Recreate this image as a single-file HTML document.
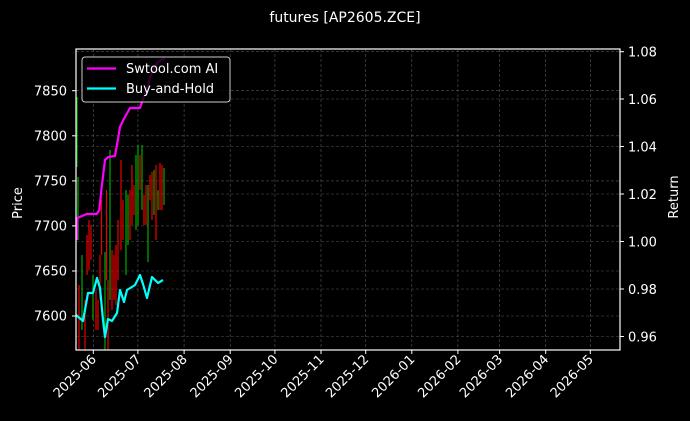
<!DOCTYPE html>
<html><head><meta charset="utf-8"><style>
html,body{margin:0;padding:0;background:#000;}
svg{display:block;font-family:"DejaVu Sans","Liberation Sans",sans-serif;}
</style></head><body>
<svg width="690" height="421" viewBox="0 0 690 421" xmlns="http://www.w3.org/2000/svg">
<rect width="690" height="421" fill="#000"/>
<text x="345" y="22" fill="#fff" font-size="14" text-anchor="middle">futures [AP2605.ZCE]</text>
<g stroke="#555" stroke-width="0.6" stroke-dasharray="3,2">
<line x1="76" x2="620" y1="90.7" y2="90.7"/><line x1="76" x2="620" y1="135.8" y2="135.8"/><line x1="76" x2="620" y1="180.9" y2="180.9"/><line x1="76" x2="620" y1="225.9" y2="225.9"/><line x1="76" x2="620" y1="271" y2="271"/><line x1="76" x2="620" y1="316" y2="316"/>
<line x1="76" x2="620" y1="51.7" y2="51.7"/><line x1="76" x2="620" y1="99" y2="99"/><line x1="76" x2="620" y1="146.5" y2="146.5"/><line x1="76" x2="620" y1="194" y2="194"/><line x1="76" x2="620" y1="241.5" y2="241.5"/><line x1="76" x2="620" y1="289" y2="289"/><line x1="76" x2="620" y1="336.5" y2="336.5"/>
<line y1="49" y2="350" x1="93.3" x2="93.3"/><line y1="49" y2="350" x1="137.9" x2="137.9"/><line y1="49" y2="350" x1="184.1" x2="184.1"/><line y1="49" y2="350" x1="230.2" x2="230.2"/><line y1="49" y2="350" x1="274.9" x2="274.9"/><line y1="49" y2="350" x1="321" x2="321"/><line y1="49" y2="350" x1="365.7" x2="365.7"/><line y1="49" y2="350" x1="411.8" x2="411.8"/><line y1="49" y2="350" x1="457.9" x2="457.9"/><line y1="49" y2="350" x1="499.6" x2="499.6"/><line y1="49" y2="350" x1="545.7" x2="545.7"/><line y1="49" y2="350" x1="590.3" x2="590.3"/>
</g>
<g stroke-width="1.2">
<line x1="77" x2="77" y1="97" y2="167" stroke="#0a0"/><line x1="78" x2="78" y1="177" y2="240" stroke="#0a0"/>
<line x1="79" x2="79" y1="285" y2="350" stroke="#e00"/><line x1="82" x2="82" y1="255" y2="330" stroke="#0a0"/>
<line x1="85" x2="85" y1="300" y2="350" stroke="#e00"/><line x1="87" x2="87" y1="235" y2="275" stroke="#e00"/>
<line x1="89" x2="89" y1="220" y2="270" stroke="#e00"/><line x1="91" x2="91" y1="225" y2="260" stroke="#e00"/>
<line x1="93" x2="93" y1="275" y2="320" stroke="#0a0"/><line x1="96" x2="96" y1="290" y2="330" stroke="#e00"/>
<line x1="98" x2="98" y1="300" y2="330" stroke="#e00"/><line x1="100" x2="100" y1="255" y2="300" stroke="#e00"/>
<line x1="101.5" x2="101.5" y1="200" y2="255" stroke="#e00"/><line x1="105" x2="105" y1="252" y2="350" stroke="#0a0"/>
<line x1="106.5" x2="106.5" y1="190" y2="280" stroke="#e00"/><line x1="108" x2="108" y1="280" y2="350" stroke="#e00"/>
<line x1="110" x2="110" y1="150" y2="300" stroke="#0a0"/><line x1="112" x2="112" y1="250" y2="310" stroke="#e00"/>
<line x1="114" x2="114" y1="255" y2="300" stroke="#e00"/><line x1="116" x2="116" y1="245" y2="305" stroke="#e00"/>
<line x1="118" x2="118" y1="220" y2="280" stroke="#e00"/><line x1="121" x2="121" y1="160" y2="250" stroke="#e00"/>
<line x1="123" x2="123" y1="200" y2="240" stroke="#e00"/><line x1="126" x2="126" y1="190" y2="275" stroke="#0a0"/>
<line x1="128" x2="128" y1="195" y2="245" stroke="#0a0"/><line x1="130" x2="130" y1="190" y2="240" stroke="#e00"/>
<line x1="132" x2="132" y1="165" y2="225" stroke="#e00"/><line x1="134" x2="134" y1="185" y2="215" stroke="#e00"/>
<line x1="136" x2="136" y1="155" y2="230" stroke="#0a0"/><line x1="138" x2="138" y1="145" y2="225" stroke="#0a0"/>
<line x1="140" x2="140" y1="155" y2="190" stroke="#e00"/><line x1="142" x2="142" y1="145" y2="210" stroke="#0a0"/>
<line x1="144" x2="144" y1="195" y2="225" stroke="#e00"/><line x1="146" x2="146" y1="185" y2="225" stroke="#e00"/>
<line x1="148" x2="148" y1="185" y2="262" stroke="#0a0"/><line x1="150" x2="150" y1="175" y2="200" stroke="#e00"/>
<line x1="152" x2="152" y1="172" y2="220" stroke="#e00"/><line x1="154" x2="154" y1="170" y2="215" stroke="#0a0"/>
<line x1="156" x2="156" y1="165" y2="240" stroke="#e00"/><line x1="158" x2="158" y1="190" y2="210" stroke="#0a0"/>
<line x1="160" x2="160" y1="163" y2="210" stroke="#e00"/><line x1="162" x2="162" y1="165" y2="210" stroke="#e00"/>
<line x1="164" x2="164" y1="168" y2="205" stroke="#0a0"/>
</g>
<polyline fill="none" stroke="#f0f" stroke-width="2.2" stroke-linejoin="round" points="76.7,240 77.3,218 86.7,214 96.7,214 99.3,210 101.7,187 105,160 108.3,157 115,156 117.3,143 120,127 123.3,120 126.7,114 130,108 140,108 142.7,100 148,85 152,72 158,62 165,58"/>
<polyline fill="none" stroke="#0ff" stroke-width="2.2" stroke-linejoin="round" points="76,315 83,321 88,293 93,293 97,278 100,288 103,320 105,337 108,319 112,321 117,313 120,290 124,302 127,290 135,285 140,275 143,284 147,298 152,277 158,283 163,280"/>
<rect x="76" y="49" width="544" height="301" fill="none" stroke="#fff" stroke-width="1.2"/>
<g stroke="#fff" stroke-width="1">
<line x1="72" x2="76" y1="90.7" y2="90.7"/><line x1="72" x2="76" y1="135.8" y2="135.8"/><line x1="72" x2="76" y1="180.9" y2="180.9"/><line x1="72" x2="76" y1="225.9" y2="225.9"/><line x1="72" x2="76" y1="271" y2="271"/><line x1="72" x2="76" y1="316" y2="316"/>
<line x1="620" x2="624" y1="51.7" y2="51.7"/><line x1="620" x2="624" y1="99" y2="99"/><line x1="620" x2="624" y1="146.5" y2="146.5"/><line x1="620" x2="624" y1="194" y2="194"/><line x1="620" x2="624" y1="241.5" y2="241.5"/><line x1="620" x2="624" y1="289" y2="289"/><line x1="620" x2="624" y1="336.5" y2="336.5"/>
<line y1="350" y2="354" x1="93.3" x2="93.3"/><line y1="350" y2="354" x1="137.9" x2="137.9"/><line y1="350" y2="354" x1="184.1" x2="184.1"/><line y1="350" y2="354" x1="230.2" x2="230.2"/><line y1="350" y2="354" x1="274.9" x2="274.9"/><line y1="350" y2="354" x1="321" x2="321"/><line y1="350" y2="354" x1="365.7" x2="365.7"/><line y1="350" y2="354" x1="411.8" x2="411.8"/><line y1="350" y2="354" x1="457.9" x2="457.9"/><line y1="350" y2="354" x1="499.6" x2="499.6"/><line y1="350" y2="354" x1="545.7" x2="545.7"/><line y1="350" y2="354" x1="590.3" x2="590.3"/>
</g>
<g fill="#fff" font-size="13" text-anchor="end">
<text x="67" y="95.5">7850</text><text x="67" y="140.5">7800</text><text x="67" y="185.5">7750</text><text x="67" y="230.5">7700</text><text x="67" y="275.5">7650</text><text x="67" y="320.5">7600</text>
</g>
<g fill="#fff" font-size="13">
<text x="628" y="56.5">1.08</text><text x="628" y="104">1.06</text><text x="628" y="151.5">1.04</text><text x="628" y="199">1.02</text><text x="628" y="246.5">1.00</text><text x="628" y="294">0.98</text><text x="628" y="341.5">0.96</text>
</g>
<g fill="#fff" font-size="13" text-anchor="end">
<text transform="translate(97,360) rotate(-45)">2025-06</text>
<text transform="translate(141.6,360) rotate(-45)">2025-07</text>
<text transform="translate(187.8,360) rotate(-45)">2025-08</text>
<text transform="translate(233.9,360) rotate(-45)">2025-09</text>
<text transform="translate(278.6,360) rotate(-45)">2025-10</text>
<text transform="translate(324.7,360) rotate(-45)">2025-11</text>
<text transform="translate(369.4,360) rotate(-45)">2025-12</text>
<text transform="translate(415.5,360) rotate(-45)">2026-01</text>
<text transform="translate(461.6,360) rotate(-45)">2026-02</text>
<text transform="translate(503.3,360) rotate(-45)">2026-03</text>
<text transform="translate(549.4,360) rotate(-45)">2026-04</text>
<text transform="translate(594,360) rotate(-45)">2026-05</text>
</g>
<text transform="translate(22,203) rotate(-90)" fill="#fff" font-size="13" text-anchor="middle">Price</text>
<text transform="translate(678,197) rotate(-90)" fill="#fff" font-size="13" text-anchor="middle">Return</text>
<rect x="82" y="57" width="148" height="45" rx="3" fill="#000" fill-opacity="0.8" stroke="#ccc" stroke-width="1"/>
<line x1="87" x2="116" y1="68.5" y2="68.5" stroke="#f0f" stroke-width="2.2"/>
<line x1="87" x2="116" y1="88.5" y2="88.5" stroke="#0ff" stroke-width="2.2"/>
<text x="126" y="73" fill="#fff" font-size="13">Swtool.com AI</text>
<text x="126" y="93" fill="#fff" font-size="13">Buy-and-Hold</text>
</svg>
</body></html>
